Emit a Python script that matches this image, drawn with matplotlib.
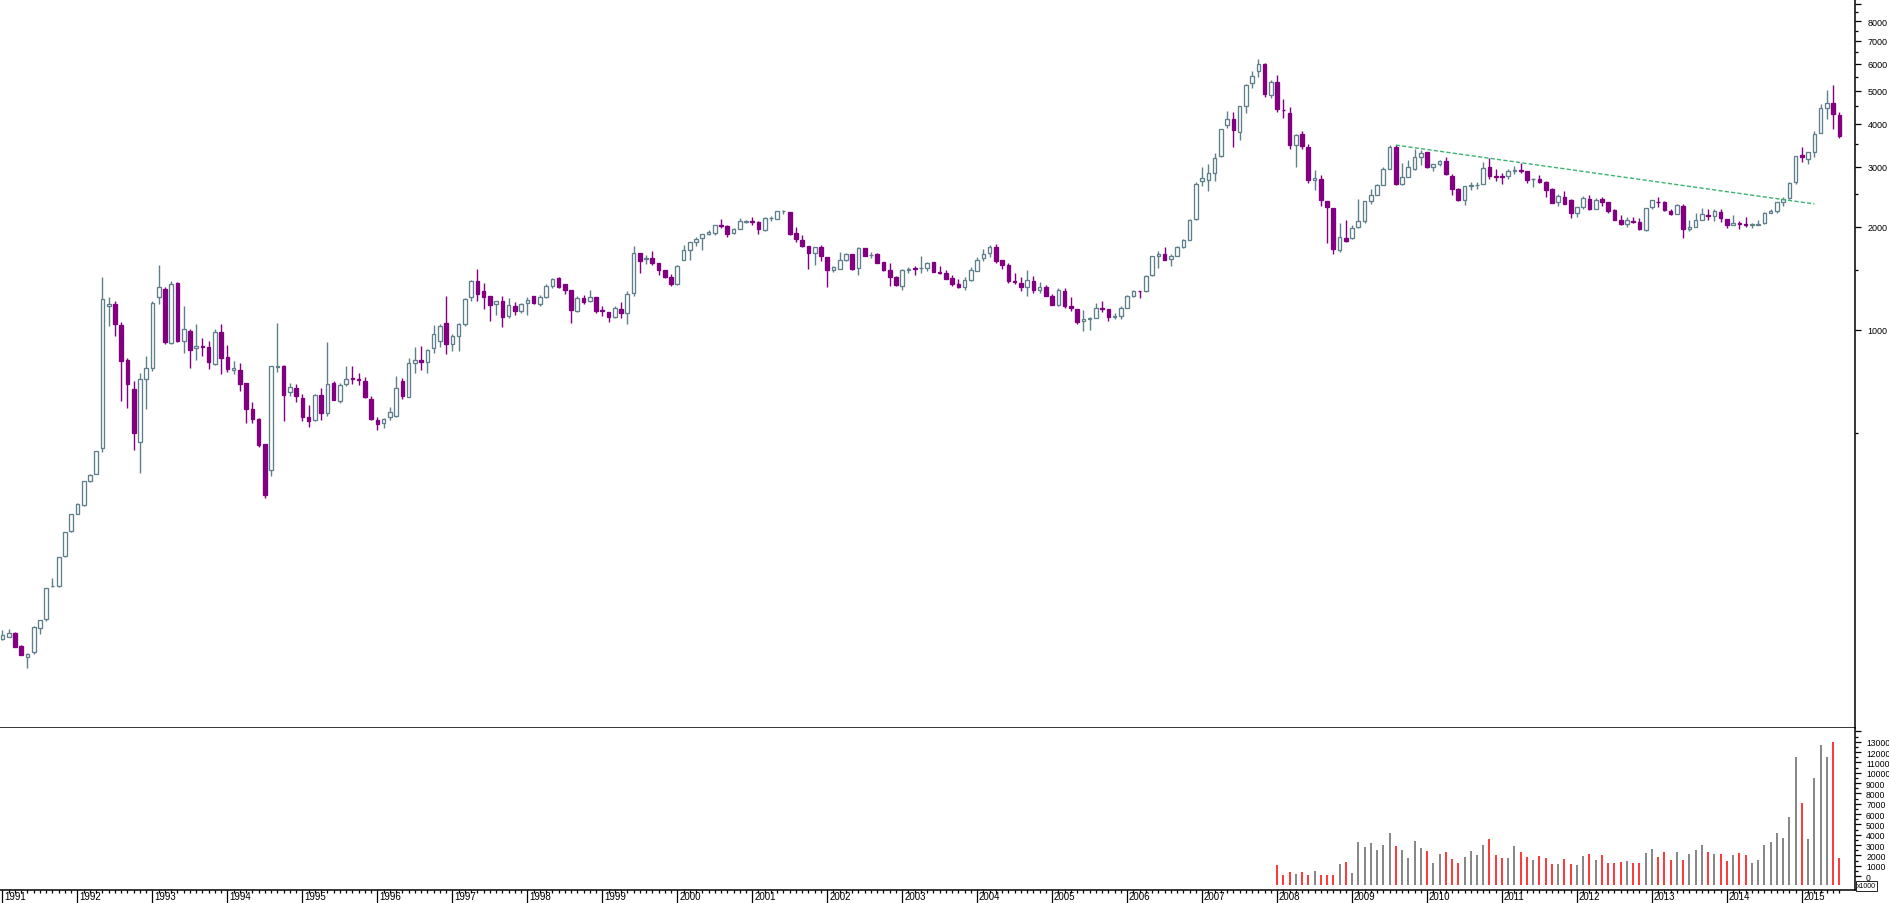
import numpy as np
import pandas as pd
import matplotlib
matplotlib.use("Agg")
import matplotlib.pyplot as plt
import matplotlib.transforms as mtransforms
from matplotlib.patches import Rectangle
from matplotlib.ticker import FixedLocator, FixedFormatter, NullFormatter

plt.rcParams['font.family'] = ['Liberation Sans', 'DejaVu Sans']

# monthly candles, Jan 1991 .. Jul 2015
months = pd.period_range("1991-01", "2015-07", freq="M")

opens = [
    125, 127, 130, 119, 111, 114.5, 134.5, 143, 178, 178, 218, 257.5,          # 1991
    290, 308.5, 361, 379, 451, 1175, 1191, 1034, 817, 672, 469, 720,           # 1992
    774, 1249, 1318, 916, 1373, 929, 993, 886, 895, 892, 796, 986,             # 1993
    834, 765, 765, 700, 588, 550, 465, 390, 780, 785, 659, 677,                # 1994
    633, 557, 546, 646, 572, 700, 620, 696, 724, 720, 710, 629,                # 1995
    546, 535, 557, 561, 710, 638, 801, 817, 806, 886, 929, 1048,               # 1996
    910, 960, 1041, 1248, 1390, 1300, 1257, 1191, 1215, 1099, 1175, 1137,      # 1997
    1199, 1257, 1191, 1248, 1345, 1418, 1362, 1309, 1137, 1240, 1215, 1248,    # 1998
    1144, 1129, 1092, 1152, 1121, 1282, 1678, 1612, 1620, 1568, 1498, 1429,    # 1999
    1362, 1605, 1714, 1808, 1855, 1906, 1920, 2027, 2013, 1920, 1971, 2070,    # 2000
    2082, 2072, 1965, 2120, 2115, 2220, 2212, 1920, 1832, 1760, 1683, 1747,    # 2001
    1634, 1492, 1510, 1600, 1667, 1515, 1732, 1653, 1667, 1578, 1498, 1432,    # 2002
    1342, 1500, 1520, 1516, 1520, 1578, 1475, 1468, 1418, 1362, 1339, 1397,    # 2003
    1484, 1627, 1676, 1747, 1601, 1548, 1387, 1373, 1331, 1390, 1311, 1335,    # 2004
    1259, 1183, 1298, 1175, 1150, 1062, 1078, 1082, 1157, 1150, 1090, 1099,    # 2005
    1161, 1255, 1300, 1298, 1445, 1641, 1662, 1610, 1650, 1747, 1837, 2110,    # 2006
    2726, 2741, 2881, 3215, 3960, 4123, 3790, 4520, 5265, 5720, 5970, 4860,    # 2007
    5290, 4390, 4320, 3470, 3730, 3425, 2745, 2758, 2376, 2266, 1715, 1855,    # 2008
    1855, 2005, 2075, 2380, 2485, 2660, 2960, 3420, 2670, 2800, 2950, 3200,    # 2009
    3310, 2985, 3060, 3120, 2820, 2580, 2400, 2640, 2645, 2670, 2990, 2820,    # 2010
    2815, 2810, 2905, 2930, 2910, 2760, 2770, 2700, 2585, 2360, 2445, 2400,    # 2011
    2200, 2292, 2420, 2262, 2415, 2365, 2240, 2090, 2040, 2080, 2065, 1960,    # 2012
    2290, 2370, 2365, 2225, 2175, 2310, 1975, 2000, 2100, 2170, 2150, 2210,    # 2013
    2105, 2025, 2050, 2040, 2025, 2030, 2050, 2200, 2220, 2365, 2430, 2700,    # 2014
    3250, 3160, 3320, 3760, 4460, 4620, 4240,                                  # 2015
]
highs = [
    133, 134, 131, 120, 113.5, 136, 142, 176, 188, 217.5, 257, 290,
    311, 362, 380, 444, 1426, 1250, 1215, 1055, 828, 709, 749, 840,
    1215, 1548, 1335, 1390, 1380, 1175, 1007, 1041, 947, 929, 1007, 1041,
    904, 812, 801, 700, 616, 553, 465, 785, 1048, 790, 700, 696,
    650, 604, 650, 677, 923, 710, 700, 785, 785, 750, 730, 640,
    557, 551, 595, 734, 725, 830, 892, 895, 880, 1034, 1041, 1257,
    973, 1045, 1240, 1400, 1507, 1373, 1257, 1218, 1257, 1240, 1205, 1200,
    1246, 1257, 1265, 1360, 1422, 1425, 1363, 1309, 1257, 1265, 1305, 1248,
    1178, 1129, 1173, 1205, 1297, 1759, 1678, 1655, 1705, 1568, 1498, 1457,
    1545, 1768, 1808, 1865, 1906, 1961, 2027, 2110, 2027, 1982, 2120, 2100,
    2136, 2080, 2140, 2160, 2230, 2245, 2212, 2000, 1895, 1760, 1750, 1771,
    1634, 1542, 1690, 1679, 1667, 1747, 1732, 1686, 1675, 1580, 1570, 1440,
    1511, 1525, 1542, 1645, 1583, 1578, 1537, 1498, 1450, 1410, 1428, 1525,
    1634, 1725, 1771, 1783, 1601, 1573, 1468, 1430, 1497, 1438, 1381, 1354,
    1270, 1326, 1326, 1249, 1150, 1142, 1089, 1197, 1215, 1150, 1119, 1173,
    1262, 1305, 1303, 1445, 1650, 1702, 1745, 1667, 1760, 1840, 2105, 2698,
    2991, 3052, 3290, 3870, 4354, 4335, 4502, 5220, 5710, 6194, 6050, 5370,
    5560, 4720, 4490, 3730, 3810, 3490, 2940, 2840, 2376, 2266, 2055, 2097,
    2020, 2411, 2385, 2578, 2676, 3000, 3478, 3470, 3070, 3140, 3380, 3350,
    3310, 3060, 3140, 3200, 2860, 2600, 2640, 2700, 2700, 3090, 3190, 2955,
    2870, 2955, 3010, 3070, 2910, 2780, 2840, 2725, 2600, 2500, 2550, 2420,
    2290, 2460, 2480, 2430, 2450, 2370, 2260, 2170, 2135, 2140, 2130, 2270,
    2400, 2455, 2380, 2260, 2330, 2330, 2090, 2200, 2270, 2250, 2250, 2250,
    2105, 2170, 2080, 2140, 2050, 2090, 2210, 2260, 2365, 2450, 2700, 3230,
    3420, 3310, 3820, 4590, 5030, 5200, 4350,
]
lows = [
    124, 127, 118, 112, 103, 113, 129.5, 141, 177, 177, 217, 256,
    289, 306, 360, 378, 439, 1030, 960, 620, 592, 446, 382, 588,
    760, 1191, 910, 910, 925, 857, 774, 817, 840, 769, 790, 744,
    754, 744, 664, 535, 535, 455, 323, 374, 754, 542, 640, 616,
    543, 521, 540, 546, 561, 622, 612, 686, 696, 692, 632, 547,
    511, 516, 547, 557, 629, 636, 749, 766, 749, 857, 892, 851,
    868, 868, 1030, 1218, 1215, 1152, 1062, 1108, 1020, 1086, 1108, 1119,
    1108, 1189, 1178, 1240, 1329, 1325, 1274, 1048, 1126, 1191, 1210, 1121,
    1101, 1057, 1082, 1086, 1043, 1257, 1470, 1556, 1545, 1450, 1419, 1342,
    1350, 1605, 1600, 1756, 1710, 1895, 1895, 1985, 1873, 1907, 1971, 2055,
    2020, 1904, 1950, 2080, 2110, 2180, 1890, 1805, 1747, 1511, 1552, 1595,
    1339, 1480, 1504, 1588, 1500, 1450, 1645, 1627, 1574, 1490, 1344, 1347,
    1311, 1470, 1450, 1469, 1484, 1475, 1460, 1410, 1347, 1326, 1310, 1390,
    1484, 1588, 1637, 1571, 1510, 1375, 1363, 1300, 1259, 1285, 1285, 1259,
    1180, 1175, 1162, 1139, 1043, 996, 1002, 1082, 1126, 1065, 1075, 1075,
    1161, 1250, 1243, 1295, 1440, 1521, 1606, 1540, 1645, 1740, 1835, 2100,
    2630, 2553, 2730, 3200, 3888, 3434, 3580, 4308, 5090, 5500, 4810, 4780,
    4350, 4160, 3380, 3000, 3370, 2690, 2570, 2300, 1796, 1670, 1687, 1810,
    1845, 1990, 2050, 2340, 2485, 2650, 2950, 2650, 2650, 2790, 2940, 3030,
    2970, 2920, 3020, 2840, 2480, 2380, 2320, 2570, 2590, 2670, 2770, 2730,
    2670, 2760, 2860, 2880, 2690, 2620, 2690, 2450, 2355, 2310, 2335, 2125,
    2140, 2260, 2240, 2262, 2310, 2200, 2100, 2030, 2000, 2050, 1960, 1950,
    2250, 2290, 2220, 2170, 2175, 1860, 1950, 2000, 2090, 2100, 2080, 2070,
    1986, 2025, 1970, 2000, 1986, 2020, 2040, 2190, 2200, 2300, 2410, 2670,
    3100, 3060, 3210, 3760, 4140, 3860, 3640,
]
closes = [
    128, 130, 118, 112, 113, 135.5, 141.5, 176, 178.8, 217, 256.5, 289.5,
    310, 361, 376.5, 442, 1229, 1190, 1041, 812, 696, 500, 720, 774,
    1199, 1335, 923, 1362, 929, 1007, 874, 897, 890, 806, 986, 828,
    769, 774, 696, 588, 550, 461, 329, 785, 785, 646, 681, 641,
    557, 542, 646, 572, 696, 624, 691, 720, 720, 712, 638, 550,
    532, 550, 577, 677, 641, 801, 817, 806, 874, 973, 1027, 910,
    960, 1041, 1232, 1390, 1274, 1248, 1183, 1215, 1092, 1183, 1137, 1191,
    1224, 1199, 1248, 1345, 1410, 1335, 1309, 1144, 1240, 1207, 1248, 1137,
    1137, 1092, 1160, 1121, 1274, 1678, 1590, 1620, 1568, 1498, 1429, 1362,
    1538, 1714, 1808, 1842, 1906, 1932, 2027, 2013, 1906, 1971, 2082, 2082,
    2070, 1968, 2125, 2129, 2220, 2228, 1910, 1842, 1760, 1683, 1747, 1650,
    1492, 1526, 1601, 1665, 1511, 1736, 1650, 1660, 1574, 1498, 1432, 1357,
    1494, 1512, 1510, 1520, 1572, 1481, 1464, 1412, 1362, 1335, 1397, 1494,
    1601, 1671, 1742, 1595, 1551, 1393, 1378, 1339, 1397, 1311, 1332, 1259,
    1185, 1309, 1175, 1157, 1057, 1079, 1080, 1157, 1152, 1090, 1099, 1161,
    1258, 1298, 1296, 1434, 1641, 1672, 1606, 1650, 1753, 1837, 2099, 2678,
    2786, 2881, 3183, 3855, 4123, 3845, 4502, 5204, 5520, 5970, 4910, 5290,
    4417, 4380, 3475, 3715, 3440, 2745, 2775, 2404, 2290, 1728, 1865, 1815,
    1990, 2082, 2375, 2477, 2645, 2960, 3415, 2670, 2790, 2995, 3195, 3285,
    2990, 3060, 3110, 2850, 2585, 2400, 2640, 2650, 2655, 2980, 2820, 2808,
    2800, 2905, 2930, 2915, 2745, 2770, 2700, 2565, 2355, 2470, 2335, 2200,
    2290, 2430, 2260, 2395, 2370, 2225, 2100, 2045, 2090, 2070, 1968, 2270,
    2390, 2360, 2235, 2175, 2320, 1975, 1995, 2100, 2175, 2150, 2220, 2120,
    2030, 2060, 2035, 2030, 2035, 2045, 2200, 2220, 2360, 2420, 2690, 3230,
    3210, 3310, 3750, 4450, 4610, 4290, 3700,
]

# volume (x1000), Jan 2008 .. Jul 2015
vol_start = "2008-01"
volumes = [
    1070, 100, 355, 230, 420, 130, 520, 50, 130, 130, 1130, 1390,
    320, 3260, 2780, 3160, 2490, 2970, 4130, 2870, 2490, 1710, 3360, 2680,
    2390, 1230, 2100, 2290, 1610, 1230, 1810, 2390, 2000, 2970, 3550, 2000,
    1710, 1710, 2870, 2290, 1810, 1520, 1900, 1710, 1130, 1130, 1610, 1130,
    1030, 1900, 2100, 1520, 2000, 1230, 1230, 1320, 1420, 1230, 1230, 2200,
    2580, 1810, 2290, 1520, 2290, 1520, 2100, 2490, 2970, 2290, 2100, 2100,
    1420, 2000, 2200, 2000, 1230, 1520, 2970, 3260, 4130, 3650, 5690, 11500,
    7040, 3550, 9460, 12660, 11530, 12985, 1710,
]

# resistance line drawn on the chart
trend_months = ["2009-08", "2015-03"]
trend_values = [3470, 2335]

UP = "#5f808b"
DOWN = "#800080"
VOL_UP = "#646464"
VOL_DOWN = "#ff0000"

x = np.arange(len(months))
o = np.array(opens, float)
h = np.array(highs, float)
l = np.array(lows, float)
c = np.array(closes, float)
up = c >= o

W, H = 1890, 904
fig = plt.figure(figsize=(W / 100, H / 100), dpi=100)
right = 1855 / W
sep = 729 / H
bot = 891 / H
ax = fig.add_axes([0, 1 - sep, right, sep])
axv = fig.add_axes([0, 1 - bot, right, bot - sep])

xlim = (-0.4, 296.5)

# candles
ax.vlines(x, l, h, colors=[UP if u else DOWN for u in up], lw=1.0, zorder=2)
bw = 0.58
for i in range(len(x)):
    lo, hi = min(o[i], c[i]), max(o[i], c[i])
    col = UP if up[i] else DOWN
    face = "white" if up[i] else DOWN
    ax.add_patch(Rectangle((x[i] - bw / 2, lo), bw, hi - lo,
                           facecolor=face, edgecolor=col, lw=0.95, zorder=3))

tx = [months.get_loc(pd.Period(m, "M")) for m in trend_months]
ax.plot(tx, trend_values, color="#3cb371", lw=1.0, ls=(0, (3, 1.6)), zorder=4)

ax.set_yscale("log")
ax.set_ylim(68.6, 9277)
ax.set_xlim(*xlim)
for s in ["left", "top"]:
    ax.spines[s].set_visible(False)
ax.spines["right"].set_linewidth(1.1)
ax.spines["bottom"].set_linewidth(1.1)
ax.tick_params(axis="x", which="both", bottom=False, labelbottom=False)
ax.yaxis.tick_right()
major = [1000, 2000, 3000, 4000, 5000, 6000, 7000, 8000, 9000]
ax.yaxis.set_major_locator(FixedLocator(major))
ax.yaxis.set_major_formatter(FixedFormatter([str(v) for v in major[:-1]] + [""]))
ax.yaxis.set_minor_locator(FixedLocator([500, 1500, 2500, 3500, 4500, 5500, 6500, 7500, 8500]))
ax.yaxis.set_minor_formatter(NullFormatter())
ax.tick_params(axis="y", which="major", direction="out", length=4, width=0.9,
               labelsize=6.5, pad=5)
ax.tick_params(axis="y", which="minor", direction="out", length=2, width=0.9)

# volume
start = months.get_loc(pd.Period(vol_start, "M"))
vx = x[start:start + len(volumes)]
vcol = [VOL_UP if u else VOL_DOWN for u in up[start:start + len(volumes)]]
vbase = -840
axv.vlines(vx, vbase, volumes, colors=vcol, lw=1.1)
axv.set_ylim(-1355, 14330)
axv.set_xlim(*xlim)
for s in ["left", "top"]:
    axv.spines[s].set_visible(False)
axv.spines["right"].set_linewidth(1.1)
axv.spines["bottom"].set_linewidth(1.1)
axv.yaxis.tick_right()
vmaj = list(range(0, 14001, 1000))
axv.yaxis.set_major_locator(FixedLocator(vmaj))
axv.yaxis.set_major_formatter(FixedFormatter([str(v) for v in vmaj[:-1]] + [""]))
axv.yaxis.set_minor_locator(FixedLocator(list(range(500, 14000, 1000))))
axv.tick_params(axis="y", which="major", direction="out", length=4, width=0.9,
                labelsize=6.2, pad=4)
axv.tick_params(axis="y", which="minor", direction="out", length=2, width=0.9)

jan = [i for i, m in enumerate(months) if m.month == 1]
axv.xaxis.set_major_locator(FixedLocator(jan))
axv.xaxis.set_major_formatter(NullFormatter())
axv.xaxis.set_minor_locator(FixedLocator([i for i in x if i not in jan]))
axv.tick_params(axis="x", which="major", direction="out", length=9, width=0.9)
axv.tick_params(axis="x", which="minor", direction="out", length=2.2, width=0.9)
trans = mtransforms.blended_transform_factory(axv.transData, axv.transAxes)
for i in jan:
    axv.text(i + 0.3, -0.008, str(months[i].year), transform=trans,
             ha="left", va="top", fontsize=7, clip_on=False)

fig.text(1857 / W, 1 - 887 / H, "x1000", fontsize=5, ha="left", va="center",
         bbox=dict(boxstyle="square,pad=0.15", fc="white", ec="black", lw=0.6))

fig.savefig("out.png", dpi=100)
